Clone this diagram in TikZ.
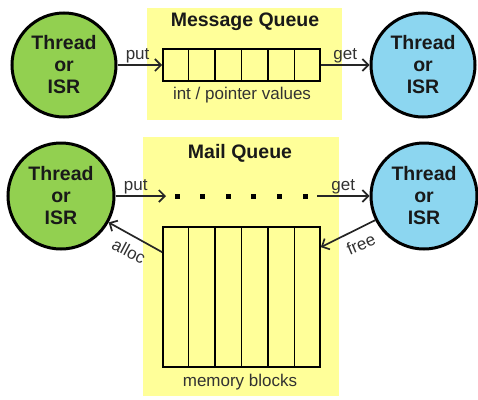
\documentclass[tikz,border=0pt]{standalone}
\usepackage{fontspec}
\setmainfont{Liberation Sans}
\usetikzlibrary{arrows.meta,calc}
\definecolor{panelyellow}{RGB}{255,255,153}
\definecolor{threadgreen}{RGB}{146,208,80}
\definecolor{threadblue}{RGB}{140,214,240}
\definecolor{labelgray}{RGB}{50,50,50}
\tikzset{
  panel/.style={fill=panelyellow, draw=none},
  thread/.style={circle, draw=black, line width=3pt, minimum size=104pt, inner sep=0pt,
    align=center, font=\fontsize{19.5}{22}\selectfont\bfseries, text=black!90},
  cellbox/.style={draw=black, line width=1.7pt, fill=panelyellow, inner sep=0pt},
  divider/.style={draw=black, line width=1.7pt},
  flow/.style={draw=black!85, line width=1.7pt,
    -{Straight Barb[length=6pt,width=12pt,line width=1.7pt]}},
  flowlabel/.style={font=\fontsize{17}{20}\selectfont, text=labelgray, inner sep=1.5pt},
  title/.style={font=\fontsize{19.5}{22}\selectfont\bfseries, text=black!90},
  caption/.style={font=\fontsize{17}{20}\selectfont, text=labelgray},
  dot/.style={fill=black, minimum size=5pt, inner sep=0pt}
}
\begin{document}
\begin{tikzpicture}[x=1pt, y=-1pt]
  \useasboundingbox (0,0) rectangle (478,399);

  % background panels
  \fill[panel] (147,8) rectangle (342,120);
  \fill[panel] (143,137) rectangle (339,396);

  % ---- message queue ----
  \node[title] (mqtitle) at (245,22) {Message Queue};
  \node[cellbox, minimum width=157pt, minimum height=32pt] (mq) at (241.5,65) {};
  \foreach \i in {1,...,5}
    \draw[divider] ($(mq.north west)!\i/6!(mq.north east)$) -- ($(mq.south west)!\i/6!(mq.south east)$);
  \node[caption] (mqcap) at (242,95) {int / pointer values};

  \node[thread, fill=threadgreen] (tl) at (64,65) {Thread\\or\\ISR};
  \node[thread, fill=threadblue] (tr) at (423,65) {Thread\\or\\ISR};

  \draw[flow] (tl) -- (mq.west) node[flowlabel, above, pos=0.45] {put};
  \draw[flow] (mq.east) -- (tr) node[flowlabel, above, pos=0.5] {get};

  % ---- mail queue ----
  \node[title] (mailtitle) at (240,153) {Mail Queue};

  \node[thread, fill=threadgreen, minimum size=106pt] (bl) at (61,196) {Thread\\or\\ISR};
  \node[thread, fill=threadblue, minimum size=106pt] (br) at (424,196) {Thread\\or\\ISR};

  \foreach \k in {0,...,5}
    \node[dot] (d\k) at ({177+25.6*\k},196) {};
  \coordinate (putEnd) at (166,196);
  \coordinate (getStart) at (317,196);
  \draw[flow] (bl) -- (putEnd) node[flowlabel, above, pos=0.4] {put};
  \draw[flow] (getStart) -- (br) node[flowlabel, above, pos=0.5] {get};

  \node[cellbox, minimum width=157pt, minimum height=140pt] (mem) at (241.5,297) {};
  \foreach \i in {1,...,5}
    \draw[divider] ($(mem.north west)!\i/6!(mem.north east)$) -- ($(mem.south west)!\i/6!(mem.south east)$);
  \node[caption] (memcap) at (240,382) {memory blocks};

  \coordinate (allocStart) at ($(mem.north west)+(0,26)$);
  \coordinate (freeEnd) at ($(mem.north east)+(0,21)$);
  \draw[flow] (allocStart) -- (bl);
  \draw[flow] (br) -- (freeEnd);
  \node[flowlabel, rotate=-28] (alloclbl) at (129,251) {alloc};
  \node[flowlabel, rotate=23] (freelbl) at (361,244) {free};
\end{tikzpicture}
\end{document}
